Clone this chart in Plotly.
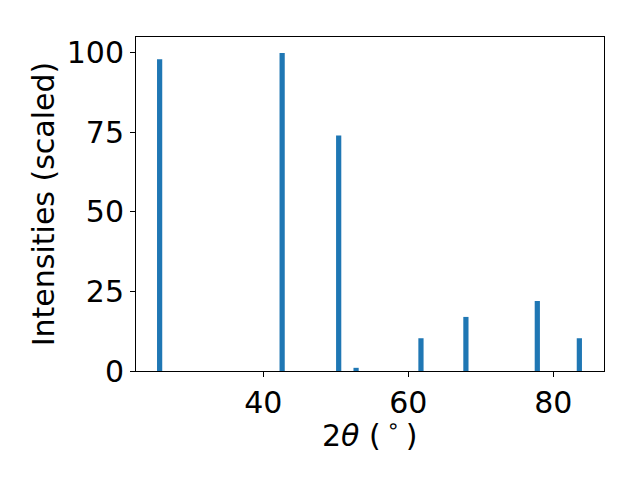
import plotly.graph_objects as go

two_theta = [25.7, 42.6, 50.4, 52.8, 61.75, 67.95, 77.8, 83.6]
intensity = [98, 100, 74, 1, 10.3, 17, 22, 10.3]
x_ticks = [40, 60, 80]
y_ticks = [0, 25, 50, 75, 100]
x_title = "2<i>θ</i> (\u2009<sup>∘</sup>\u2009)"
y_title = "Intensities (scaled)"

fig = go.Figure(go.Bar(x=two_theta, y=intensity, width=0.72,
                       marker=dict(color="#1f77b4", line=dict(width=0))))

font = dict(family="DejaVu Sans", size=30, color="black")
axis_common = dict(showline=True, linecolor="black", linewidth=1, mirror=True,
                   ticks="outside", ticklen=5, tickcolor="black", showgrid=False,
                   zeroline=False, tickfont=font)
fig.update_layout(
    width=632, height=472,
    margin=dict(l=128, r=36, t=29, b=109),
    paper_bgcolor="white", plot_bgcolor="white",
    showlegend=False,
    xaxis=dict(range=[22.44, 87.0], tickvals=x_ticks, **axis_common),
    yaxis=dict(range=[0, 105], tickvals=y_ticks,
               title=dict(text=y_title, font=font, standoff=3),
               **axis_common),
)
fig.add_annotation(text=x_title, xref="paper", yref="paper", x=0.5, y=-0.188,
                   xanchor="center", yanchor="middle", showarrow=False, font=font)
fig.write_html("out.html")
